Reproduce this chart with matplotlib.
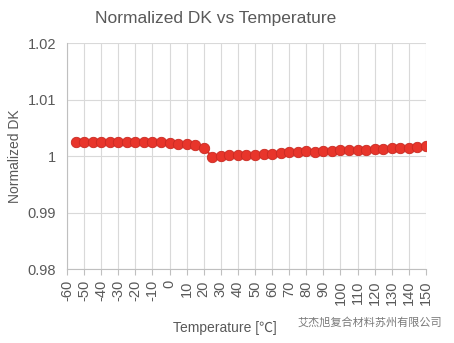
import matplotlib
matplotlib.use("Agg")
import matplotlib.pyplot as plt
import numpy as np

plt.rcParams['font.family'] = ['Liberation Sans', 'Noto Sans CJK SC', 'DejaVu Sans']

# data
temps = list(range(-55, 151, 5))
dk = [1.0024, 1.0024, 1.0024, 1.0024, 1.0024, 1.0024, 1.0025, 1.0024, 1.0024, 1.0024,
      1.0024, 1.0023, 1.0022, 1.0021, 1.0019, 1.0014,
      0.9999, 1.0000, 1.0001, 1.0001, 1.0002, 1.0002, 1.0003, 1.0004, 1.0005, 1.0007,
      1.0007, 1.0008, 1.0007, 1.0008, 1.0009, 1.0010, 1.0011, 1.0011, 1.0011, 1.0013,
      1.0012, 1.0014, 1.0015, 1.0015, 1.0016, 1.0017]
xticks = list(range(-60, 151, 10))
yticks = [0.98, 0.99, 1.0, 1.01, 1.02]
ytick_labels = ['0.98', '0.99', '1', '1.01', '1.02']

txt = '#595959'
fig = plt.figure(figsize=(4.54, 3.43), dpi=100)
ax = fig.add_axes([0.1476, 0.2157, 0.7904, 0.6589])

ax.plot(temps, dk, color='#e8352b', linewidth=1.5, marker='o', markersize=7.5,
        markerfacecolor='#e8352b', markeredgecolor='#c92a22', markeredgewidth=0.6, zorder=3)

ax.set_xlim(-60, 150)
ax.set_ylim(0.98, 1.02)
ax.set_xticks(xticks)
ax.set_xticklabels([str(t) for t in xticks], rotation=90)
ax.set_yticks(yticks)
ax.set_yticklabels(ytick_labels)
ax.grid(True, color='#d9d9d9', linewidth=0.8)
ax.set_axisbelow(True)

for s in ['top', 'right']:
    ax.spines[s].set_visible(False)
ax.spines['left'].set_color('#bfbfbf')
ax.spines['bottom'].set_color('#bfbfbf')
ax.tick_params(axis='x', colors=txt, labelsize=10.5, length=4, color='#bfbfbf', pad=4)
ax.tick_params(axis='y', colors=txt, labelsize=10.5, length=0, pad=8)

ax.set_ylabel('Normalized DK', color=txt, fontsize=10)
ax.yaxis.set_label_coords(-0.125, 0.5)
fig.text(0.495, 0.045, 'Temperature [℃]', color=txt, fontsize=10, ha='center', va='center')
fig.text(0.474, 0.945, 'Normalized DK vs Temperature', color=txt, fontsize=12.5, ha='center', va='center')

# watermark
fig.text(0.975, 0.06, '艾杰旭复合材料苏州有限公司', color='#7a7a7a', fontsize=8,
         ha='right', va='center', family=['Noto Sans CJK SC', 'DejaVu Sans'])

fig.savefig('out.png', dpi=100)
